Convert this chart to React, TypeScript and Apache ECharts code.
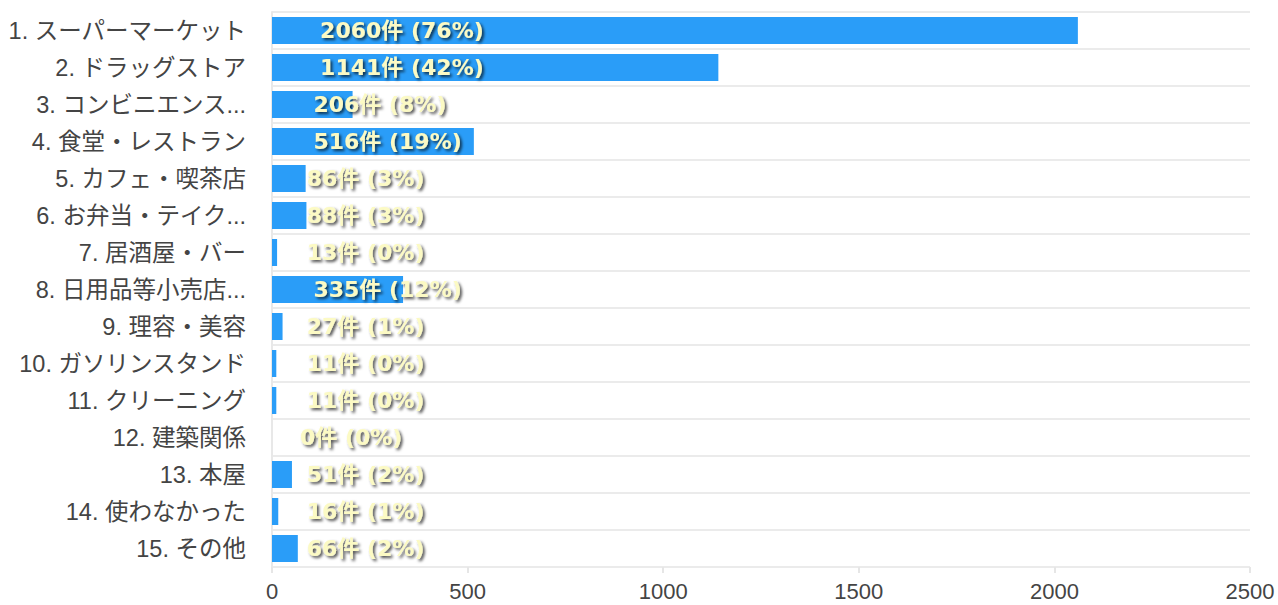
import React, { useEffect, useRef } from "react";
import * as echarts from "echarts";

const categories = [
  "1. スーパーマーケット",
  "2. ドラッグストア",
  "3. コンビニエンス...",
  "4. 食堂・レストラン",
  "5. カフェ・喫茶店",
  "6. お弁当・テイク...",
  "7. 居酒屋・バー",
  "8. 日用品等小売店...",
  "9. 理容・美容",
  "10. ガソリンスタンド",
  "11. クリーニング",
  "12. 建築関係",
  "13. 本屋",
  "14. 使わなかった",
  "15. その他",
];
const counts = [2060, 1141, 206, 516, 86, 88, 13, 335, 27, 11, 11, 0, 51, 16, 66];
const percents = [76, 42, 8, 19, 3, 3, 0, 12, 1, 0, 0, 0, 2, 1, 2];
const xTicks = { min: 0, max: 2500, interval: 500 };

const FONT = '"Liberation Sans", Arial, "Noto Sans CJK JP", sans-serif';
const LABEL_FONT = '"DejaVu Sans", "Noto Sans CJK JP", sans-serif';

export default function App() {
  const ref = useRef<HTMLDivElement>(null);
  useEffect(() => {
    if (!ref.current) return;
    const chart = echarts.init(ref.current, undefined, { renderer: "svg" });
    chart.setOption({
      animation: false,
      grid: { left: 272, right: 28, top: 12, bottom: 38, containLabel: false },
      xAxis: {
        type: "value",
        min: xTicks.min,
        max: xTicks.max,
        interval: xTicks.interval,
        axisLine: { show: false },
        axisTick: { show: true, length: 6, lineStyle: { color: "#e6e6e6", width: 2 } },
        splitLine: { show: false },
        axisLabel: {
          color: "#444",
          fontSize: 22,
          fontFamily: FONT,
          margin: 13,
          formatter: (v: number) => String(v),
        },
      },
      yAxis: {
        type: "category",
        inverse: true,
        data: categories,
        axisLine: { show: true, lineStyle: { color: "#e8e8e8", width: 2 } },
        axisTick: { show: false },
        splitLine: { show: true, lineStyle: { color: "#ebebeb", width: 2 } },
        axisLabel: { color: "#444", fontSize: 23.5, fontFamily: FONT, margin: 26 },
      },
      series: [
        {
          type: "bar",
          barWidth: 27,
          itemStyle: { color: "#2a9df8" },
          data: counts.map((v) => ({
            value: v,
            label: {
              position: [28 + (String(v).length - 1) * 6.7, "50%"],
            },
          })),
          label: {
            show: true,
            align: "left",
            verticalAlign: "middle",
            formatter: (p: any) => `${counts[p.dataIndex]}件 (${percents[p.dataIndex]}%)`,
            color: "#fcfac4",
            fontSize: 22,
            fontWeight: "bold",
            fontFamily: LABEL_FONT,
            textShadowColor: "rgba(0,0,0,0.7)",
            textShadowBlur: 3,
            textShadowOffsetX: 2,
            textShadowOffsetY: 2,
          },
        },
      ],
    });
    return () => chart.dispose();
  }, []);
  return (
    <div
      ref={ref}
      style={{ position: "fixed", left: 0, top: 0, width: 1278, height: 605, background: "#fff" }}
    />
  );
}
